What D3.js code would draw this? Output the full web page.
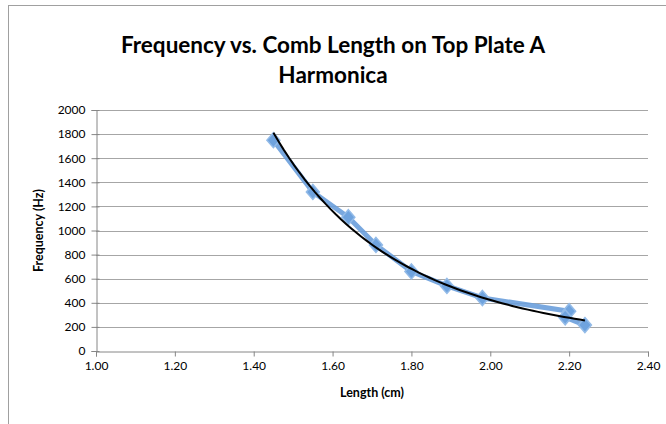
<!DOCTYPE html>
<html><head><meta charset="utf-8">
<script src="https://cdn.jsdelivr.net/npm/d3@7"></script>
<style>body{margin:0;background:#fff}svg{display:block}</style>
</head><body><svg id="c" width="666" height="424"></svg>
<script>
const lengths = [1.45, 1.55, 1.64, 1.71, 1.80, 1.89, 1.98, 2.20, 2.19, 2.24];
const freqs   = [1750, 1320, 1110, 880, 660, 540, 440, 330, 280, 215];
const xTicks = [1.0, 1.2, 1.4, 1.6, 1.8, 2.0, 2.2, 2.4];
const yTicks = [0, 200, 400, 600, 800, 1000, 1200, 1400, 1600, 1800, 2000];
const titleLines = ["Frequency vs. Comb Length on Top Plate A", "Harmonica"];
const xTitle = "Length (cm)";
const yTitle = "Frequency (Hz)";

const svg = d3.select("#c");
const font = "Lato, 'Open Sans', sans-serif";
const M = {l: 96, r: 648, t: 110, b: 351};
const x = d3.scaleLinear().domain([1.0, 2.4]).range([M.l, M.r]);
const y = d3.scaleLinear().domain([0, 2000]).range([M.b, M.t]);

svg.append("rect").attr("x", 8.5).attr("y", 5.5).attr("width", 700).attr("height", 430)
  .attr("fill", "#fff").attr("stroke", "#a0a0a0");

// gridlines
svg.append("g").selectAll("line").data(yTicks.filter(d => d > 0)).join("line")
  .attr("x1", M.l).attr("x2", M.r).attr("y1", d => Math.round(y(d)) + 0.5).attr("y2", d => Math.round(y(d)) + 0.5)
  .attr("stroke", "#a6a6a6").attr("stroke-width", 1);

// axes
const yAxis = svg.append("g").attr("transform", `translate(${M.l + 0.5},0)`)
  .call(d3.axisLeft(y).tickValues(yTicks).tickSize(5).tickPadding(6).tickFormat(d3.format("d")));
const xAxis = svg.append("g").attr("transform", `translate(0,${Math.round(y(0)) + 0.5})`)
  .call(d3.axisBottom(x).tickValues(xTicks).tickSize(5).tickPadding(5).tickFormat(d3.format(".2f")));
[yAxis, xAxis].forEach(g => {
  g.select(".domain").attr("stroke", "#868686");
  g.selectAll(".tick line").attr("stroke", "#868686");
  g.selectAll("text").attr("fill", "#000").style("font-family", font).style("font-size", "12px");
});
yAxis.selectAll(".tick line").attr("x1", 3);

// data line
const pts = lengths.map((l, i) => [l, freqs[i]]);
svg.append("path").datum(pts)
  .attr("d", d3.line().x(d => x(d[0])).y(d => y(d[1])))
  .attr("fill", "none").attr("stroke", "#6a9fdb").attr("stroke-width", 5)
  .attr("stroke-linejoin", "round").attr("opacity", 0.9);

// markers
svg.append("g").selectAll("path").data(pts).join("path")
  .attr("transform", d => `translate(${x(d[0])},${y(d[1])})`)
  .attr("d", "M0,-7.5L6.5,0L0,7.5L-6.5,0Z")
  .attr("fill", "#6fa3de").attr("stroke", "#93bbe8").attr("stroke-width", 1.5);

// power trendline fitted from the data
const lx = lengths.map(Math.log), ly = freqs.map(Math.log);
const mx = d3.mean(lx), my = d3.mean(ly);
const b = d3.sum(lx.map((v, i) => (v - mx) * (ly[i] - my))) / d3.sum(lx.map(v => (v - mx) ** 2));
const a = Math.exp(my - b * mx);
const x0 = d3.min(lengths), x1 = d3.max(lengths);
const trend = d3.range(0, 61).map(i => { const xv = x0 + (x1 - x0) * i / 60; return [xv, a * Math.pow(xv, b)]; });
svg.append("path").datum(trend)
  .attr("d", d3.line().x(d => x(d[0])).y(d => y(d[1])))
  .attr("fill", "none").attr("stroke", "#000").attr("stroke-width", 2);

// titles
svg.append("g").selectAll("text").data(titleLines).join("text")
  .attr("x", 333).attr("y", (d, i) => 53 + i * 30).attr("text-anchor", "middle")
  .style("font-family", font).style("font-weight", "bold").style("font-size", "22.5px").text(d => d);
svg.append("text").attr("x", (M.l + M.r) / 2).attr("y", 397).attr("text-anchor", "middle")
  .style("font-family", font).style("font-weight", "bold").style("font-size", "12.5px").text(xTitle);
svg.append("text").attr("transform", `translate(43,${(M.t + M.b) / 2}) rotate(-90)`).attr("text-anchor", "middle")
  .style("font-family", font).style("font-weight", "bold").style("font-size", "12.5px").text(yTitle);
</script></body></html>
